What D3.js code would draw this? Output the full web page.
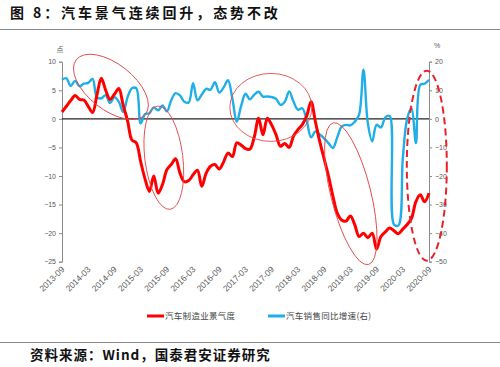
<!DOCTYPE html>
<html>
<head>
<meta charset="utf-8">
<script src="https://cdn.jsdelivr.net/npm/d3@7"></script>
<style>
  body { margin: 0; background: #fff; }
  svg { display: block; }
  .axis path, .axis line { stroke: #8c8c8c; }
  .axis text { fill: #595959; font-family: "Liberation Sans", Arial, sans-serif; font-size: 7px; }
</style>
</head>
<body>
<svg id="chart" width="500" height="367"></svg>
<script>
// months 2013-09 .. 2020-09
var months = d3.timeMonth.range(new Date(2013, 8, 1), new Date(2020, 9, 1)).map(d3.timeFormat("%Y-%m"));

var tickLabels = ["2013-09", "2014-03", "2014-09", "2015-03", "2015-09", "2016-03", "2016-09",
  "2017-03", "2017-09", "2018-03", "2018-09", "2019-03", "2019-09", "2020-03", "2020-09"];

var leftTicks = [10, 5, 0, -5, -10, -15, -20, -25];
var rightTicks = [20, 10, 0, -10, -20, -30, -40, -50];

// 汽车制造业景气度 (left axis, 点)
var prosperity = [
  1.2, 2.2, 3.2, 4.1, 3.4, 3.3, 2.2, 1.1, 4.2, 7.1,
  5.0, 3.4, 4.3, 5.3, 2.4, -0.3, -3.7, -4.2, -7.5, -10.5,
  -12.7, -10.0, -13.0, -11.5, -8.9, -8.0, -7.0, -9.5, -11.0, -10.8,
  -9.8, -9.0, -11.8, -9.5, -8.3, -8.0, -8.8, -7.5, -6.0, -6.6,
  -4.2, -4.6, -5.2, -5.3, -3.2, 0.1, -2.8, 0.1, -1.1, -2.8,
  -4.8, -4.3, -5.0, -3.0, -1.9, -1.0, 0.5, 3.0, -0.5, -4.0,
  -7.0, -10.0, -13.5, -16.5, -17.7, -17.9, -17.0, -18.5, -20.6, -20.0,
  -20.8, -20.0, -22.8, -20.6, -19.8, -19.1, -19.6, -20.1, -19.3, -18.5,
  -17.4, -14.5, -13.3, -14.5, -13.0
];

// 汽车销售同比增速(右) (right axis, %)
var salesYoY = [
  13.7, 14.2, 11.5, 13.3, 11.4, 12.3, 12.6, 14.0, 7.5, 7.2,
  8.3, 5.5, 7.6, 6.0, 2.4, 7.5, 10.7, 10.7, -1.6, 1.6,
  2.0, 4.0, 3.0, 4.7, 2.6, 6.5, 9.0, 8.2, 6.0, 5.7,
  12.5, 6.5, 8.5, 10.5, 10.2, 12.8, 9.2, 11.0, 13.5, 7.0,
  -1.0, 4.5, 8.8, 6.8, 8.5, 9.5, 7.8, 7.8, 7.6, 7.0,
  4.9, 6.0, 9.6, 6.0, 3.2, 3.7, -0.5, -6.5, -4.4, -5.5,
  -6.8, -8.5, -10.2, -6.5, -2.7, -2.1, -2.3, -1.0, 1.5, 17.2,
  -1.5, -7.9, -2.1, -3.0, 0.5, 1.0, -37.0, -37.3, -14.0, 0.0,
  3.7, -8.5, 11.9, 12.3, 13.7
];

// annotation ellipses: centre month index + left-axis value
var circles = [
  {i: 11.2, v: 5.6, rx: 44, ry: 23, rot: 38, dash: false},
  {i: 23.3, v: -6.8, rx: 19, ry: 52, rot: -7, dash: false},
  {i: 47.8, v: 2.0, rx: 41, ry: 34, rot: 0, dash: false},
  {i: 66.1, v: -13.1, rx: 20, ry: 73, rot: -14, dash: false},
  {i: 83.5, v: -8.2, rx: 20, ry: 95, rot: 0, dash: true}
];

var svg = d3.select("#chart");

var plot = {left: 62, right: 429, top: 61.7, bottom: 261.7};

var x = d3.scalePoint().domain(months).range([plot.left, plot.right]);
var yL = d3.scaleLinear().domain([-25, 10]).range([plot.bottom, plot.top]);
var yR = d3.scaleLinear().domain([-50, 20]).range([plot.bottom, plot.top]);

// title
svg.append("text")
    .attr("x", 10).attr("y", 18)
    .attr("font-family", "'Noto Sans CJK SC', sans-serif")
    .attr("font-weight", "bold")
    .attr("font-size", 14)
    .attr("letter-spacing", 2.9)
    .attr("fill", "#111")
    .text("图 8：汽车景气连续回升，态势不改");

svg.append("line")
    .attr("x1", 0).attr("x2", 500).attr("y1", 29.5).attr("y2", 29.5)
    .attr("stroke", "#8a8a8a").attr("stroke-width", 1.2);

// axes
svg.append("g")
    .attr("class", "axis")
    .attr("transform", "translate(" + plot.left + ",0)")
    .call(d3.axisLeft(yL).tickValues(leftTicks).tickSize(3).tickSizeOuter(3).tickPadding(3));

svg.append("g")
    .attr("class", "axis")
    .attr("transform", "translate(" + plot.right + ",0)")
    .call(d3.axisRight(yR).tickValues(rightTicks).tickSize(3).tickSizeOuter(3).tickPadding(3));

svg.append("text")
    .attr("x", plot.left - 2).attr("y", 52)
    .attr("text-anchor", "middle")
    .attr("font-family", "'Noto Sans CJK SC', sans-serif")
    .attr("font-size", 7).attr("fill", "#595959")
    .text("点");

svg.append("text")
    .attr("x", plot.right + 8).attr("y", 48)
    .attr("text-anchor", "middle")
    .attr("font-family", "'Liberation Sans', sans-serif")
    .attr("font-size", 7).attr("fill", "#595959")
    .text("%");

// x tick labels
svg.append("g")
    .selectAll("text")
    .data(tickLabels)
    .enter().append("text")
      .attr("transform", function(d) { return "translate(" + (x(d) + 3) + ",270) rotate(-45)"; })
      .attr("text-anchor", "end")
      .attr("font-family", "'Liberation Sans', Arial, sans-serif")
      .attr("font-size", 8.5)
      .attr("fill", "#595959")
      .text(function(d) { return d; });

// zero line
svg.append("line")
    .attr("x1", plot.left).attr("x2", plot.right)
    .attr("y1", yL(0)).attr("y2", yL(0))
    .attr("stroke", "#222").attr("stroke-width", 1.3);

var lineL = d3.line()
    .x(function(d, i) { return x(months[i]); })
    .y(function(d) { return yL(d); })
    .curve(d3.curveCatmullRom.alpha(0.5));

var lineR = d3.line()
    .x(function(d, i) { return x(months[i]); })
    .y(function(d) { return yR(d); })
    .curve(d3.curveCatmullRom.alpha(0.5));

svg.append("path")
    .datum(salesYoY)
    .attr("fill", "none")
    .attr("stroke", "#1FAEE6")
    .attr("stroke-width", 2.4)
    .attr("stroke-linejoin", "round")
    .attr("d", lineR);

svg.append("path")
    .datum(prosperity)
    .attr("fill", "none")
    .attr("stroke", "#FF0000")
    .attr("stroke-width", 3)
    .attr("stroke-linejoin", "round")
    .attr("d", lineL);

// annotation ellipses
var step = x.step();
svg.append("g")
    .selectAll("ellipse")
    .data(circles)
    .enter().append("ellipse")
      .attr("transform", function(d) {
        return "translate(" + (plot.left + d.i * step) + "," + yL(d.v) + ") rotate(" + d.rot + ")";
      })
      .attr("rx", function(d) { return d.rx; })
      .attr("ry", function(d) { return d.ry; })
      .attr("fill", "none")
      .attr("stroke", function(d) { return d.dash ? "#E8222A" : "#E5474C"; })
      .attr("stroke-width", function(d) { return d.dash ? 2 : 0.9; })
      .attr("stroke-dasharray", function(d) { return d.dash ? "7,4" : null; });

// legend
var legend = [
  {name: "汽车制造业景气度", color: "#FF0000", x: 147},
  {name: "汽车销售同比增速(右)", color: "#1FAEE6", x: 268}
];
var lg = svg.append("g").selectAll("g").data(legend).enter().append("g")
    .attr("transform", function(d) { return "translate(" + d.x + ",316)"; });
lg.append("line")
    .attr("x1", 0).attr("x2", 17).attr("y1", 0).attr("y2", 0)
    .attr("stroke", function(d) { return d.color; })
    .attr("stroke-width", 3);
lg.append("text")
    .attr("x", 18).attr("y", 3)
    .attr("font-family", "'Noto Sans CJK SC', sans-serif")
    .attr("font-size", 8.5).attr("letter-spacing", 0.3).attr("fill", "#444")
    .text(function(d) { return d.name; });

// source
svg.append("line")
    .attr("x1", 0).attr("x2", 500).attr("y1", 342.5).attr("y2", 342.5)
    .attr("stroke", "#8a8a8a").attr("stroke-width", 1.2);

svg.append("text")
    .attr("x", 30).attr("y", 360)
    .attr("font-family", "'Noto Sans CJK SC', sans-serif")
    .attr("font-weight", "bold")
    .attr("font-size", 13.5)
    .attr("letter-spacing", 1)
    .attr("fill", "#111")
    .text("资料来源：Wind，国泰君安证券研究");
</script>
</body>
</html>
